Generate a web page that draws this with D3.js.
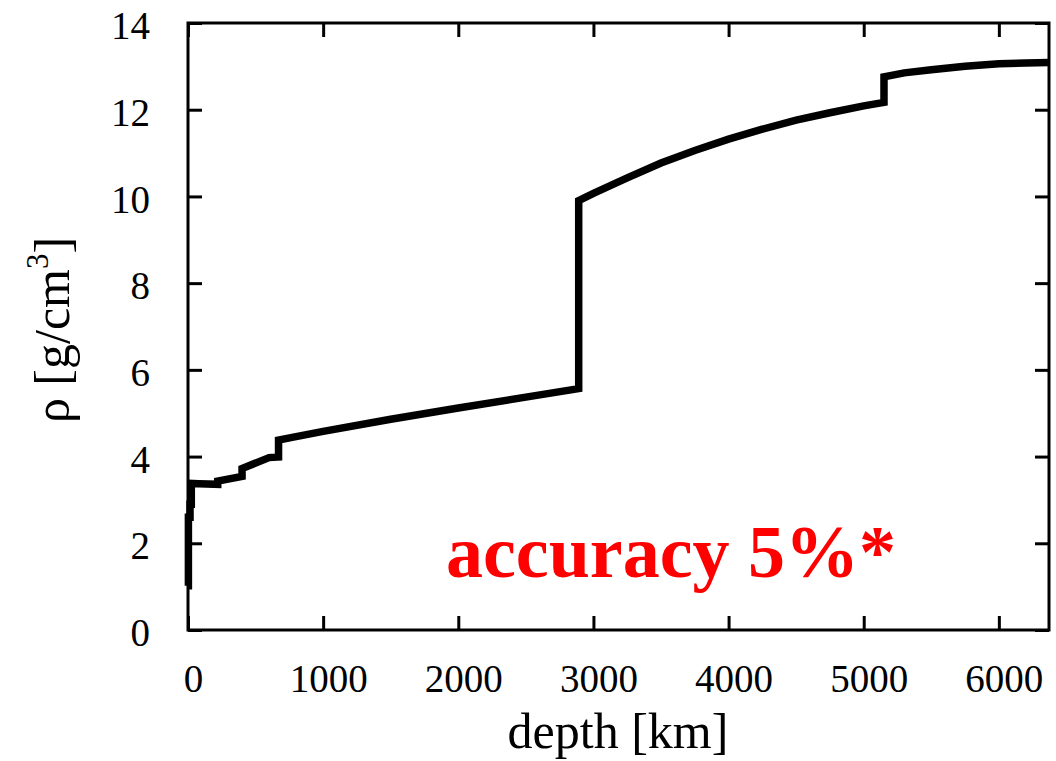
<!DOCTYPE html>
<html>
<head>
<meta charset="utf-8">
<script src="https://cdn.jsdelivr.net/npm/d3@7"></script>
<style>
  body { margin: 0; background: #fff; }
  svg { display: block; }
  .tick text { font-family: "Liberation Serif", "Times New Roman", serif; }
</style>
</head>
<body>
<div id="chart"></div>
<script>
// PREM-like density profile, depth in km, density in g/cm^3
const depths = [0, 3, 3, 15, 15, 24.4, 24.4, 80, 220, 220, 400, 400, 600, 670, 670, 771,
  1000, 1500, 2000, 2500, 2891, 2891, 3000, 3250, 3500, 3750, 4000, 4250, 4500, 4750,
  5000, 5150, 5150, 5300, 5500, 5750, 6000, 6200, 6371];
const density = [1.02, 1.02, 2.6, 2.6, 2.9, 2.9, 3.38, 3.375, 3.359, 3.436, 3.543, 3.724, 3.976, 3.992, 4.381, 4.443,
  4.58, 4.86, 5.12, 5.37, 5.566, 9.903, 10.07, 10.43, 10.77, 11.06, 11.32, 11.55, 11.76, 11.93,
  12.09, 12.17, 12.76, 12.85, 12.92, 13.0, 13.06, 13.08, 13.09];

const xTicks = [0, 1000, 2000, 3000, 4000, 5000, 6000];
const yTicks = [0, 2, 4, 6, 8, 10, 12, 14];

const W = 1056, H = 761;
const margin = { left: 188, right: 7, top: 23, bottom: 131 };
const iw = W - margin.left - margin.right;
const ih = H - margin.top - margin.bottom;

const svg = d3.select('#chart').append('svg')
  .attr('width', W)
  .attr('height', H);

const g = svg.append('g').attr('transform', `translate(${margin.left},${margin.top})`);

const x = d3.scaleLinear().domain([0, 6371]).range([0, iw]);
const y = d3.scaleLinear().domain([0, 14]).range([ih, 0]);

const tickLen = 14;

function styleAxis(sel, showLabels) {
  sel.select('.domain').remove();
  sel.selectAll('.tick line').attr('stroke', '#000').attr('stroke-width', 3);
  if (!showLabels) sel.selectAll('.tick text').remove();
}

// bottom
g.append('g')
  .attr('transform', `translate(0,${ih})`)
  .call(d3.axisBottom(x).tickValues(xTicks).tickSize(-tickLen).tickPadding(tickLen + 20).tickFormat(d3.format('d')))
  .call(s => styleAxis(s, true))
  .selectAll('.tick text')
  .attr('font-size', 39)
  .attr('fill', '#000')
  .attr('dx', 5);

// top
g.append('g')
  .call(d3.axisTop(x).tickValues(xTicks).tickSize(-tickLen))
  .call(s => styleAxis(s, false));

// left
g.append('g')
  .call(d3.axisLeft(y).tickValues(yTicks).tickSize(-tickLen).tickPadding(tickLen + 24))
  .call(s => styleAxis(s, true))
  .selectAll('.tick text')
  .attr('font-size', 39)
  .attr('fill', '#000')
  .attr('dy', '0.4em');

// right
g.append('g')
  .attr('transform', `translate(${iw},0)`)
  .call(d3.axisRight(y).tickValues(yTicks).tickSize(-tickLen))
  .call(s => styleAxis(s, false));

// frame
g.append('rect')
  .attr('width', iw)
  .attr('height', ih)
  .attr('fill', 'none')
  .attr('stroke', '#000')
  .attr('stroke-width', 3);

// density curve
const pts = depths.map((d, i) => [d, density[i]]);
const line = d3.line().x(d => x(d[0])).y(d => y(d[1]));

g.append('path')
  .datum(pts)
  .attr('d', line)
  .attr('fill', 'none')
  .attr('stroke', '#000')
  .attr('stroke-width', 7.5)
  .attr('stroke-linejoin', 'miter');

// annotation
g.append('text')
  .attr('x', 446 - margin.left)
  .attr('y', 577 - margin.top)
  .attr('font-family', '"Liberation Serif", "Times New Roman", serif')
  .attr('font-weight', 'bold')
  .attr('font-size', 74)
  .attr('fill', '#ff0000')
  .text('accuracy 5%*');

// axis titles
svg.append('text')
  .attr('x', 618)
  .attr('y', 748)
  .attr('text-anchor', 'middle')
  .attr('font-family', '"Liberation Serif", "Times New Roman", serif')
  .attr('font-size', 50)
  .attr('fill', '#000')
  .text('depth [km]');

const yl = svg.append('text')
  .attr('transform', 'translate(69,330) rotate(-90)')
  .attr('text-anchor', 'middle')
  .attr('font-family', '"Liberation Serif", "Times New Roman", serif')
  .attr('font-size', 50)
  .attr('fill', '#000');
yl.append('tspan').text('ρ [g/cm');
yl.append('tspan').attr('font-size', 31).attr('dy', -21).text('3');
yl.append('tspan').attr('dy', 21).text(']');
</script>
</body>
</html>
